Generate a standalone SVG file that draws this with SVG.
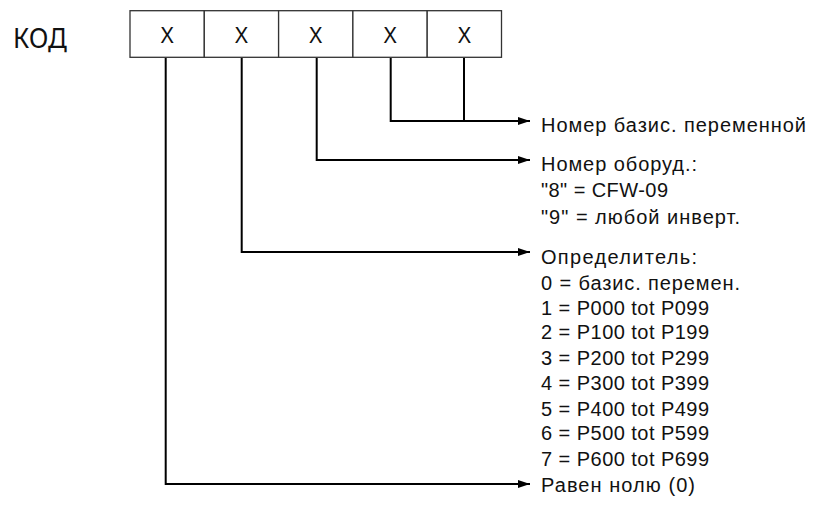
<svg xmlns="http://www.w3.org/2000/svg" width="821" height="505" viewBox="0 0 821 505">
<style>
.cell{fill:#fff;stroke:#333;stroke-width:1.3}
.x{font-family:"Noto Sans","Open Sans",sans-serif;font-size:22px;fill:#111;text-anchor:middle}
.kod{font-family:"Noto Sans","Open Sans",sans-serif;font-size:27px;fill:#111}
.lbl{font-family:"Liberation Sans",Arial,sans-serif;font-size:20px;fill:#111}
.con{fill:none;stroke:#000;stroke-width:2}
</style>
<defs>
<marker id="arr" markerUnits="userSpaceOnUse" markerWidth="12" markerHeight="8" refX="12" refY="4" orient="auto">
<path d="M0,0 L12,4 L0,8 z" fill="#000"/>
</marker>
</defs>
<g id="label-kod"><text class="kod" x="13" y="47.5" textLength="54" lengthAdjust="spacingAndGlyphs">КОД</text></g>
<g id="code">
<rect class="cell" x="130" y="10.7" width="74.3" height="46.6"/>
<rect class="cell" x="204.3" y="10.7" width="74.3" height="46.6"/>
<rect class="cell" x="278.6" y="10.7" width="74.3" height="46.6"/>
<rect class="cell" x="352.9" y="10.7" width="74.3" height="46.6"/>
<rect class="cell" x="427.2" y="10.7" width="74.3" height="46.6"/>
<text class="x" x="167.2" y="42.5">X</text>
<text class="x" x="241.5" y="42.5">X</text>
<text class="x" x="315.8" y="42.5">X</text>
<text class="x" x="390.1" y="42.5">X</text>
<text class="x" x="464.4" y="42.5">X</text>
</g>
<g id="connectors">
<path class="con" d="M390.7,58 V121 H530" marker-end="url(#arr)"/>
<path class="con" d="M464,58 V121"/>
<path class="con" d="M316.7,58 V160 H530" marker-end="url(#arr)"/>
<path class="con" d="M241.7,58 V252 H530" marker-end="url(#arr)"/>
<path class="con" d="M165.7,58 V484 H530" marker-end="url(#arr)"/>
</g>
<g id="out-basic">
<text class="lbl" x="541" y="131.5" textLength="265" lengthAdjust="spacing">Номер базис. переменной</text>
</g>
<g id="out-equip">
<text class="lbl" x="541" y="170.5" textLength="156" lengthAdjust="spacing">Номер оборуд.:</text>
<text class="lbl" x="541" y="197" textLength="127" lengthAdjust="spacing">"8" = CFW-09</text>
<text class="lbl" x="541" y="223.5" textLength="199" lengthAdjust="spacing">"9" = любой инверт.</text>
</g>
<g id="out-qualifier">
<text class="lbl" x="541" y="263.5" textLength="156" lengthAdjust="spacing">Определитель:</text>
<text class="lbl" x="541" y="289.5" textLength="199" lengthAdjust="spacing">0 = базис. перемен.</text>
<text class="lbl" x="541" y="315" textLength="168" lengthAdjust="spacing">1 = P000 tot P099</text>
<text class="lbl" x="541" y="339" textLength="168" lengthAdjust="spacing">2 = P100 tot P199</text>
<text class="lbl" x="541" y="365" textLength="168" lengthAdjust="spacing">3 = P200 tot P299</text>
<text class="lbl" x="541" y="389.5" textLength="168" lengthAdjust="spacing">4 = P300 tot P399</text>
<text class="lbl" x="541" y="415.5" textLength="168" lengthAdjust="spacing">5 = P400 tot P499</text>
<text class="lbl" x="541" y="440" textLength="168" lengthAdjust="spacing">6 = P500 tot P599</text>
<text class="lbl" x="541" y="465.5" textLength="168" lengthAdjust="spacing">7 = P600 tot P699</text>
</g>
<g id="out-zero">
<text class="lbl" x="541" y="492" textLength="154" lengthAdjust="spacing">Равен нолю (0)</text>
</g>
</svg>
